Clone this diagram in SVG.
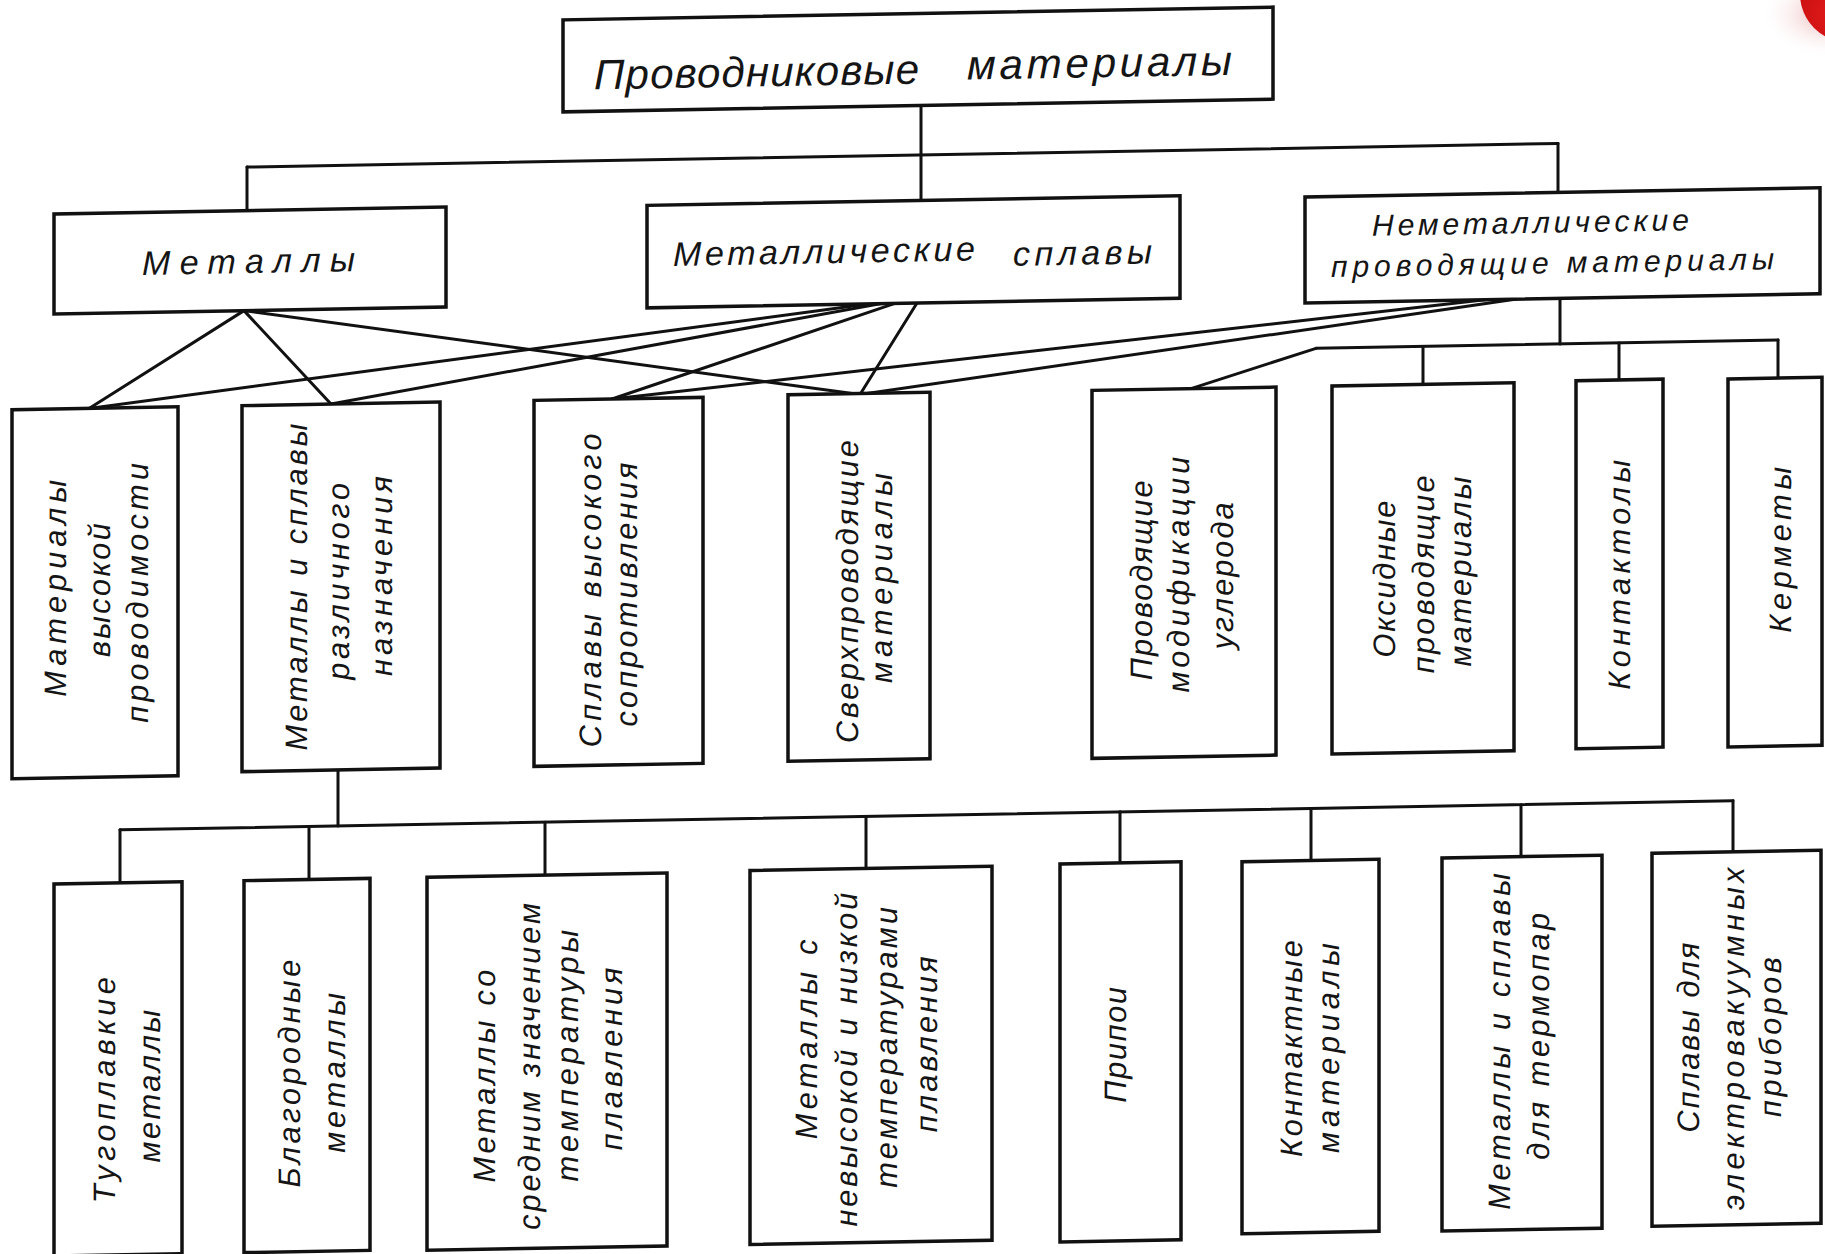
<svg xmlns="http://www.w3.org/2000/svg" width="1825" height="1254" viewBox="0 0 1825 1254">
<defs>
<style>
.box{fill:#fff;stroke:#111;stroke-width:3.5}
.t{font-family:"Liberation Sans","DejaVu Sans",sans-serif;font-style:italic;fill:#151515}
.h0{font-size:42px}
.h1{font-size:34px}
.h2{font-size:30px}
.v{font-size:31px;text-anchor:middle;dominant-baseline:central}
.conn line{stroke:#111;stroke-width:3;stroke-linecap:round;fill:none}
</style>
<radialGradient id="shade" cx="0.5" cy="0.5" r="0.5">
<stop offset="0" stop-color="#e8a0a0" stop-opacity="0.9"/>
<stop offset="1" stop-color="#ffffff" stop-opacity="0"/>
</radialGradient>
<radialGradient id="ball" cx="0.35" cy="0.7" r="0.7">
<stop offset="0" stop-color="#e21b1b"/>
<stop offset="1" stop-color="#b80808"/>
</radialGradient>
</defs>
<rect width="1825" height="1254" fill="#fff"/>
<g transform="skewY(-1.03)">
<g id="connectors" class="conn">
<line x1="921" y1="122" x2="921" y2="217"/>
<line x1="247" y1="171.5" x2="1558" y2="171.5"/>
<line x1="247" y1="171.5" x2="247" y2="215"/>
<line x1="1558" y1="171.5" x2="1558" y2="220.5"/>
<line x1="244" y1="315" x2="89" y2="410"/>
<line x1="244" y1="315" x2="331" y2="410"/>
<line x1="244" y1="315" x2="860" y2="410"/>
<line x1="870" y1="319.5" x2="89" y2="410"/>
<line x1="880" y1="319.5" x2="331" y2="410"/>
<line x1="895" y1="319.5" x2="612" y2="410"/>
<line x1="917" y1="319.5" x2="860" y2="410"/>
<line x1="1485" y1="326.5" x2="612" y2="410"/>
<line x1="1515" y1="326.5" x2="860" y2="410"/>
<line x1="1560" y1="326.5" x2="1560" y2="372"/>
<line x1="1316" y1="372" x2="1778" y2="372"/>
<line x1="1316" y1="372" x2="1191" y2="410"/>
<line x1="1423" y1="372" x2="1423" y2="410"/>
<line x1="1619" y1="372" x2="1619" y2="410"/>
<line x1="1778" y1="372" x2="1778" y2="410"/>
<line x1="338" y1="776" x2="338" y2="832"/>
<line x1="120" y1="832" x2="1733" y2="832"/>
<line x1="120" y1="832" x2="120" y2="884"/>
<line x1="309" y1="832" x2="309" y2="884"/>
<line x1="545" y1="832" x2="545" y2="884"/>
<line x1="866" y1="832" x2="866" y2="884"/>
<line x1="1120" y1="832" x2="1120" y2="884"/>
<line x1="1311" y1="832" x2="1311" y2="884"/>
<line x1="1521" y1="832" x2="1521" y2="884"/>
<line x1="1733" y1="832" x2="1733" y2="884"/>
</g>
<g id="n-root">
<rect class="box" x="563" y="30" width="710" height="92"/>
<text class="t h0" x="594" y="100" textLength="325" lengthAdjust="spacing">Проводниковые</text>
<text class="t h0" x="967" y="97" textLength="265" lengthAdjust="spacing">материалы</text>
</g>
<g id="n-metals">
<rect class="box" x="54" y="215" width="392" height="100"/>
<text class="t h1" x="142" y="277.5" textLength="213" lengthAdjust="spacing">Металлы</text>
</g>
<g id="n-alloys">
<rect class="box" x="647" y="217" width="533" height="102.5"/>
<text class="t h1" x="673" y="278" textLength="302" lengthAdjust="spacing">Металлические</text>
<text class="t h1" x="1013" y="284" textLength="139" lengthAdjust="spacing">сплавы</text>
</g>
<g id="n-nonmetal">
<rect class="box" x="1305" y="220.5" width="515" height="106"/>
<text class="t h2" x="1372" y="260.5" textLength="317" lengthAdjust="spacing">Неметаллические</text>
<text class="t h2" x="1331" y="301" textLength="443" lengthAdjust="spacing">проводящие материалы</text>
</g>
<g id="n-highcond">
<rect class="box" x="12" y="410" width="166" height="369"/>
<text class="t v" transform="translate(56,589.5) rotate(-90)" textLength="217" lengthAdjust="spacing">Материалы</text>
<text class="t v" transform="translate(100,592) rotate(-90)" textLength="134" lengthAdjust="spacing">высокой</text>
<text class="t v" transform="translate(138,595.5) rotate(-90)" textLength="260" lengthAdjust="spacing">проводимости</text>
</g>
<g id="n-various">
<rect class="box" x="242" y="410" width="198" height="366"/>
<text class="t v" transform="translate(297,592.5) rotate(-90)" textLength="327" lengthAdjust="spacing">Металлы и сплавы</text>
<text class="t v" transform="translate(339,587.5) rotate(-90)" textLength="197" lengthAdjust="spacing">различного</text>
<text class="t v" transform="translate(382,583) rotate(-90)" textLength="200" lengthAdjust="spacing">назначения</text>
</g>
<g id="n-highres">
<rect class="box" x="534" y="410" width="169" height="366"/>
<text class="t v" transform="translate(591,601) rotate(-90)" textLength="314" lengthAdjust="spacing">Сплавы высокого</text>
<text class="t v" transform="translate(627,606) rotate(-90)" textLength="264" lengthAdjust="spacing">сопротивления</text>
</g>
<g id="n-supercond">
<rect class="box" x="788" y="409" width="142" height="366.5"/>
<text class="t v" transform="translate(848,607) rotate(-90)" textLength="303" lengthAdjust="spacing">Сверхпроводящие</text>
<text class="t v" transform="translate(882,594) rotate(-90)" textLength="210" lengthAdjust="spacing">материалы</text>
</g>
<g id="n-carbon">
<rect class="box" x="1092" y="410" width="184" height="368"/>
<text class="t v" transform="translate(1142,601) rotate(-90)" textLength="200" lengthAdjust="spacing">Проводящие</text>
<text class="t v" transform="translate(1179,596) rotate(-90)" textLength="236" lengthAdjust="spacing">модификации</text>
<text class="t v" transform="translate(1223,598) rotate(-90)" textLength="147" lengthAdjust="spacing">углерода</text>
</g>
<g id="n-oxide">
<rect class="box" x="1332" y="410" width="182" height="368"/>
<text class="t v" transform="translate(1385,604) rotate(-90)" textLength="157" lengthAdjust="spacing">Оксидные</text>
<text class="t v" transform="translate(1424,600) rotate(-90)" textLength="198" lengthAdjust="spacing">проводящие</text>
<text class="t v" transform="translate(1461,598) rotate(-90)" textLength="190" lengthAdjust="spacing">материалы</text>
</g>
<g id="n-contactols">
<rect class="box" x="1576" y="409" width="87" height="368"/>
<text class="t v" transform="translate(1620,604) rotate(-90)" textLength="230" lengthAdjust="spacing">Контактолы</text>
</g>
<g id="n-cermets">
<rect class="box" x="1728" y="410" width="94" height="368"/>
<text class="t v" transform="translate(1781,582) rotate(-90)" textLength="166" lengthAdjust="spacing">Керметы</text>
</g>
<g id="n-refractory">
<rect class="box" x="54" y="885" width="128" height="372"/>
<text class="t v" transform="translate(105,1092) rotate(-90)" textLength="226" lengthAdjust="spacing">Тугоплавкие</text>
<text class="t v" transform="translate(150,1089) rotate(-90)" textLength="153" lengthAdjust="spacing">металлы</text>
</g>
<g id="n-noble">
<rect class="box" x="244" y="885" width="126" height="372"/>
<text class="t v" transform="translate(290,1079) rotate(-90)" textLength="228" lengthAdjust="spacing">Благородные</text>
<text class="t v" transform="translate(335,1079) rotate(-90)" textLength="160" lengthAdjust="spacing">металлы</text>
</g>
<g id="n-midmelt">
<rect class="box" x="427" y="885" width="240" height="373"/>
<text class="t v" transform="translate(485,1085) rotate(-90)" textLength="213" lengthAdjust="spacing">Металлы со</text>
<text class="t v" transform="translate(530,1076) rotate(-90)" textLength="327" lengthAdjust="spacing">средним значением</text>
<text class="t v" transform="translate(568,1066) rotate(-90)" textLength="252" lengthAdjust="spacing">температуры</text>
<text class="t v" transform="translate(612,1070) rotate(-90)" textLength="183" lengthAdjust="spacing">плавления</text>
</g>
<g id="n-lowmelt">
<rect class="box" x="750" y="884" width="242" height="374"/>
<text class="t v" transform="translate(807,1054) rotate(-90)" textLength="200" lengthAdjust="spacing">Металлы с</text>
<text class="t v" transform="translate(847,1075) rotate(-90)" textLength="334" lengthAdjust="spacing">невысокой и низкой</text>
<text class="t v" transform="translate(887,1063.5) rotate(-90)" textLength="281" lengthAdjust="spacing">температурами</text>
<text class="t v" transform="translate(927,1061) rotate(-90)" textLength="176" lengthAdjust="spacing">плавления</text>
</g>
<g id="n-solders">
<rect class="box" x="1060" y="883" width="121" height="378"/>
<text class="t v" transform="translate(1116,1065) rotate(-90)" textLength="116" lengthAdjust="spacing">Припои</text>
</g>
<g id="n-contactmat">
<rect class="box" x="1242" y="884" width="137" height="372"/>
<text class="t v" transform="translate(1292,1072) rotate(-90)" textLength="217" lengthAdjust="spacing">Контактные</text>
<text class="t v" transform="translate(1329,1072) rotate(-90)" textLength="210" lengthAdjust="spacing">материалы</text>
</g>
<g id="n-thermo">
<rect class="box" x="1442" y="884" width="160" height="373"/>
<text class="t v" transform="translate(1500,1068.5) rotate(-90)" textLength="337" lengthAdjust="spacing">Металлы и сплавы</text>
<text class="t v" transform="translate(1539,1064) rotate(-90)" textLength="247" lengthAdjust="spacing">для термопар</text>
</g>
<g id="n-vacuum">
<rect class="box" x="1652" y="883" width="169" height="373"/>
<text class="t v" transform="translate(1689,1068) rotate(-90)" textLength="190" lengthAdjust="spacing">Сплавы для</text>
<text class="t v" transform="translate(1734,1070) rotate(-90)" textLength="343" lengthAdjust="spacing">электровакуумных</text>
<text class="t v" transform="translate(1771,1069) rotate(-90)" textLength="160" lengthAdjust="spacing">приборов</text>
</g>
</g>
<g id="badge">
<ellipse cx="1830" cy="14" rx="70" ry="44" fill="url(#shade)"/>
<circle cx="1848" cy="-6" r="48" fill="url(#ball)"/>
</g>
</svg>
